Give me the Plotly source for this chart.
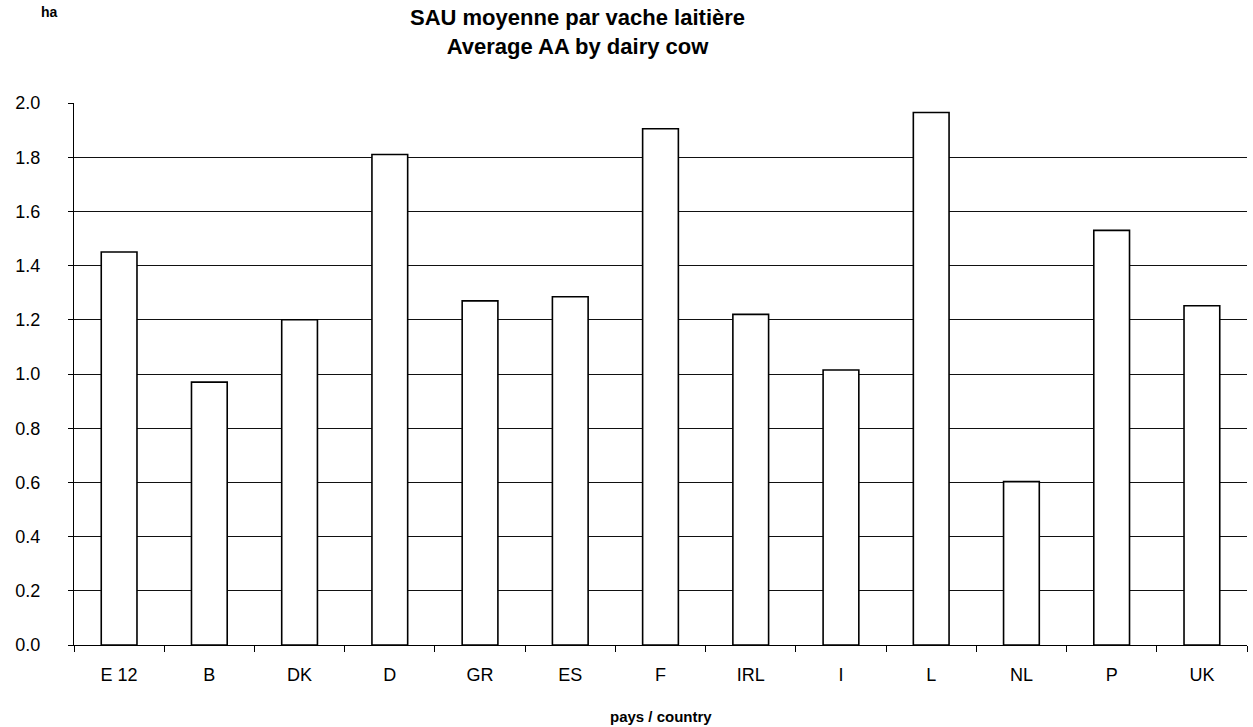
import plotly.graph_objects as go

countries = ["E 12", "B", "DK", "D", "GR", "ES", "F", "IRL", "I", "L", "NL", "P", "UK"]
values = [1.45, 0.97, 1.20, 1.81, 1.27, 1.285, 1.905, 1.22, 1.015, 1.965, 0.603, 1.53, 1.252]
ytick_vals = [0.0, 0.2, 0.4, 0.6, 0.8, 1.0, 1.2, 1.4, 1.6, 1.8, 2.0]
ytick_text = ["0.0", "0.2", "0.4", "0.6", "0.8", "1.0", "1.2", "1.4", "1.6", "1.8", "2.0"]
grid_vals = [0.2, 0.4, 0.6, 0.8, 1.0, 1.2, 1.4, 1.6, 1.8]

FONT = "Liberation Sans, Arial, sans-serif"
W, H = 1253, 727
ML, MR, MT, MB = 74, 6, 103, 82
PW, PH = W - ML - MR, H - MT - MB


def px_x(px):
    return (px - ML) / PW


def px_y(py):
    # py measured from top of page
    return (H - MB - py) / PH


fig = go.Figure()
# invisible helper trace so the grid axis is drawn
fig.add_trace(go.Scatter(x=countries, y=values, mode="none", yaxis="y2",
                         showlegend=False, hoverinfo="skip"))
fig.add_trace(go.Bar(
    x=countries, y=values,
    marker=dict(color="white", line=dict(color="black", width=1.6)),
    showlegend=False, hoverinfo="x+y",
))

fig.update_layout(
    width=W, height=H,
    paper_bgcolor="white", plot_bgcolor="white",
    margin=dict(l=ML, r=MR, t=MT, b=MB),
    bargap=0.604,
    font=dict(family=FONT, color="black"),
    xaxis=dict(
        type="category", showline=True, linecolor="black", linewidth=1,
        ticks="outside", ticklen=6, tickcolor="black", tickson="boundaries",
        showgrid=False, tickfont=dict(size=18, family=FONT, color="black"),
        ticklabelstandoff=13,
    ),
    yaxis=dict(
        range=[0, 2.0], tickmode="array", tickvals=ytick_vals, ticktext=ytick_text,
        showline=True, linecolor="black", linewidth=1,
        ticks="outside", ticklen=5, tickcolor="black",
        showgrid=False, zeroline=False,
        tickfont=dict(size=18, family=FONT, color="black"),
        ticklabelstandoff=24,
    ),
    yaxis2=dict(
        overlaying="y", range=[0, 2.0], tickmode="array", tickvals=grid_vals,
        showgrid=True, gridcolor="#111111", gridwidth=1.2,
        showticklabels=False, ticks="", showline=False, zeroline=False,
    ),
    annotations=[
        dict(text="<b>SAU moyenne par vache laitière<br>Average AA by dairy cow</b>",
             x=px_x(577), y=px_y(3), xref="paper", yref="paper",
             xanchor="center", yanchor="top", showarrow=False,
             font=dict(size=22, family=FONT, color="black")),
        dict(text="<b>ha</b>", x=px_x(39), y=px_y(2), xref="paper", yref="paper",
             xanchor="left", yanchor="top", showarrow=False,
             font=dict(size=14, family=FONT, color="black")),
        dict(text="<b>pays / country</b>", x=0.5, y=px_y(706), xref="paper", yref="paper",
             xanchor="center", yanchor="top", showarrow=False,
             font=dict(size=15, family=FONT, color="black")),
    ],
)

fig.write_html("out.html", config={"displayModeBar": False},
               post_script="document.body.style.margin='0';document.body.style.padding='0';")
